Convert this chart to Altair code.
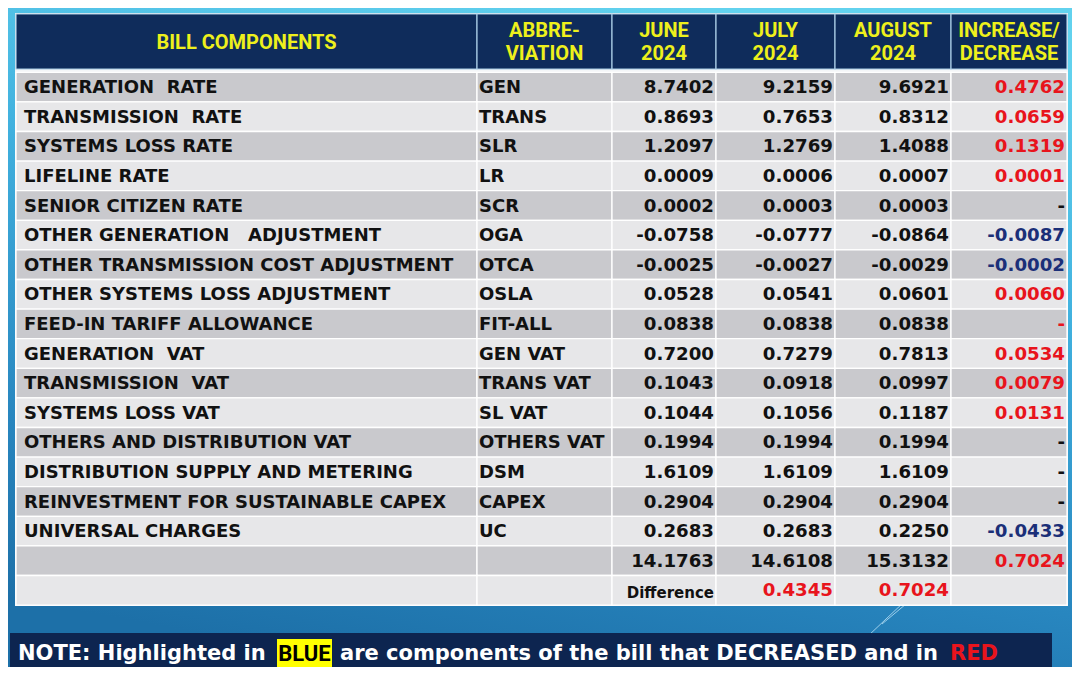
import altair as alt
import pandas as pd

# ---------------- data ----------------
headers = ["BILL COMPONENTS", "ABBRE-\nVIATION", "JUNE\n2024", "JULY\n2024", "AUGUST\n2024", "INCREASE/\nDECREASE"]
NB = "\u00a0"
components = [
    "GENERATION" + NB + " RATE", "TRANSMISSION" + NB + " RATE", "SYSTEMS LOSS RATE", "LIFELINE RATE",
    "SENIOR CITIZEN RATE", "OTHER GENERATION" + NB + NB + " ADJUSTMENT",
    "OTHER TRANSMISSION COST ADJUSTMENT", "OTHER SYSTEMS LOSS ADJUSTMENT",
    "FEED-IN TARIFF ALLOWANCE", "GENERATION" + NB + " VAT", "TRANSMISSION" + NB + " VAT",
    "SYSTEMS LOSS VAT", "OTHERS AND DISTRIBUTION VAT", "DISTRIBUTION SUPPLY AND METERING",
    "REINVESTMENT FOR SUSTAINABLE CAPEX", "UNIVERSAL CHARGES",
]
abbreviations = ["GEN", "TRANS", "SLR", "LR", "SCR", "OGA", "OTCA", "OSLA", "FIT-ALL",
                 "GEN VAT", "TRANS VAT", "SL VAT", "OTHERS VAT", "DSM", "CAPEX", "UC"]
june_2024 = [8.7402, 0.8693, 1.2097, 0.0009, 0.0002, -0.0758, -0.0025, 0.0528, 0.0838,
             0.7200, 0.1043, 0.1044, 0.1994, 1.6109, 0.2904, 0.2683]
july_2024 = [9.2159, 0.7653, 1.2769, 0.0006, 0.0003, -0.0777, -0.0027, 0.0541, 0.0838,
             0.7279, 0.0918, 0.1056, 0.1994, 1.6109, 0.2904, 0.2683]
august_2024 = [9.6921, 0.8312, 1.4088, 0.0007, 0.0003, -0.0864, -0.0029, 0.0601, 0.0838,
               0.7813, 0.0997, 0.1187, 0.1994, 1.6109, 0.2904, 0.2250]
change = ["0.4762", "0.0659", "0.1319", "0.0001", "-", "-0.0087", "-0.0002", "0.0060", "-",
          "0.0534", "0.0079", "0.0131", "-", "-", "-", "-0.0433"]
red_dash_rows = ["FIT-ALL"]
totals = [14.1763, 14.6108, 15.3132]
total_change = "0.7024"
difference_label = "Difference"
difference = [0.4345, 0.7024]
note_parts = ["NOTE: Highlighted in", "BLUE", "are components of the bill that DECREASED and in", "RED"]

# ---------------- layout (reference pixel coordinates) ----------------
COL = [16, 477, 612, 716, 835, 951, 1067]
HEAD_TOP, HEAD_BOT = 14, 69
ROW_TOP, ROW_H = 72.3, 29.6
N_ROWS = len(components) + 2
HEAD_LINE = 23

NAVY = "#0f2c5b"
YELLOW = "#eef01c"
RED = "#e8141c"
BLUE = "#1b2f78"
DARK = "#c9c9cd"
LIGHT = "#e7e7e9"
BODY_FONT = "DejaVu Sans"
HEAD_FONT = "Roboto"

xs = alt.Scale(domain=[8, 1072], nice=False, zero=False)
ys = alt.Scale(domain=[8, 667], nice=False, zero=False, reverse=True)


def X(f):
    return alt.X(f + ":Q", scale=xs, axis=None)


def Y(f):
    return alt.Y(f + ":Q", scale=ys, axis=None)


def fmt(v):
    return f"{v:.4f}"


# background
bg = pd.DataFrame({"x1": [8], "x2": [1072], "y1": [8], "y2": [667]})
bg_layer = alt.Chart(bg).mark_rect(
    color=alt.Gradient(
        gradient="linear",
        stops=[alt.GradientStop(color="#62d2ee", offset=0),
               alt.GradientStop(color="#40b0de", offset=0.35),
               alt.GradientStop(color="#2886bf", offset=0.75),
               alt.GradientStop(color="#1d70a8", offset=1)],
        x1=0.65, y1=0, x2=0.35, y2=1,
    )
).encode(x=X("x1"), x2="x2", y=Y("y1"), y2="y2")

# decorative thin lines (kept inside the visible area)
deco = pd.DataFrame({"x1": [868, 882], "y1": [636, 624], "x2": [904, 906], "y2": [602, 604]})
deco_layer = alt.Chart(deco).mark_rule(color="#cfefff", strokeWidth=1, opacity=0.7).encode(
    x=X("x1"), x2="x2", y=Y("y1"), y2="y2")

# table white base
base = pd.DataFrame({"x1": [COL[0] - 1], "x2": [COL[-1] + 1], "y1": [HEAD_TOP - 1],
                     "y2": [ROW_TOP + N_ROWS * ROW_H + 1]})
base_layer = alt.Chart(base).mark_rect(color="#f4f6f8").encode(x=X("x1"), x2="x2", y=Y("y1"), y2="y2")

# header cells
hdr = pd.DataFrame({
    "x1": COL[:-1], "x2": COL[1:], "y1": [HEAD_TOP] * 6, "y2": [HEAD_BOT] * 6,
})
hdr_cells = alt.Chart(hdr).mark_rect(color=NAVY, stroke="#a8cce4", strokeWidth=1.2).encode(
    x=X("x1"), x2="x2", y=Y("y1"), y2="y2")

hdr_lines = []
for j, h in enumerate(headers):
    parts = h.split("\n")
    xc = (COL[j] + COL[j + 1]) / 2
    yc = (HEAD_TOP + HEAD_BOT) / 2 + 1
    for k, p in enumerate(parts):
        hdr_lines.append({"x": xc, "y": yc + (k - (len(parts) - 1) / 2) * HEAD_LINE, "t": p})
hdr_text = alt.Chart(pd.DataFrame(hdr_lines)).mark_text(
    font=HEAD_FONT, fontWeight="bold", fontSize=20, color=YELLOW, align="center", baseline="middle"
).encode(x=X("x"), y=Y("y"), text="t:N")

# body cells
cells = []
for i in range(N_ROWS):
    for j in range(6):
        cells.append({"x1": COL[j], "x2": COL[j + 1], "y1": ROW_TOP + i * ROW_H,
                      "y2": ROW_TOP + (i + 1) * ROW_H, "fill": DARK if i % 2 == 0 else LIGHT})
cells = pd.DataFrame(cells)
cell_layer = alt.Chart(cells).mark_rect(stroke="#ffffff", strokeWidth=1.3).encode(
    x=X("x1"), x2="x2", y=Y("y1"), y2="y2", fill=alt.Fill("fill:N", scale=None))

# texts
left_rows, right_rows = [], []
for i, (name, ab) in enumerate(zip(components, abbreviations)):
    yc = ROW_TOP + (i + 0.5) * ROW_H + 1
    left_rows.append({"x": COL[0] + 8, "y": yc, "t": name, "c": "#111111"})
    left_rows.append({"x": COL[1] + 2, "y": yc, "t": ab, "c": "#111111"})
    for j, series in enumerate([june_2024, july_2024, august_2024]):
        right_rows.append({"x": COL[j + 3] - 2, "y": yc, "t": fmt(series[i]), "c": "#111111"})
    ch = change[i]
    if ch == "-":
        col = RED if ab in red_dash_rows else "#111111"
    elif ch.startswith("-"):
        col = BLUE
    else:
        col = RED
    right_rows.append({"x": COL[6] - 2, "y": yc, "t": ch, "c": col})

yt = ROW_TOP + (len(components) + 0.5) * ROW_H + 1
for j, v in enumerate(totals):
    right_rows.append({"x": COL[j + 3] - 2, "y": yt, "t": fmt(v), "c": "#111111"})
right_rows.append({"x": COL[6] - 2, "y": yt, "t": total_change, "c": RED})
yd = ROW_TOP + (len(components) + 1.5) * ROW_H + 1
for j, v in enumerate(difference):
    right_rows.append({"x": COL[j + 4] - 2, "y": yd, "t": fmt(v), "c": RED})

left_df = pd.DataFrame(left_rows)
right_df = pd.DataFrame(right_rows)
diff_df = pd.DataFrame({"x": [COL[3] - 2], "y": [yd + 2], "t": [difference_label]})

left_text = alt.Chart(left_df).mark_text(
    font=BODY_FONT, fontWeight="bold", fontSize=18, align="left", baseline="middle"
).encode(x=X("x"), y=Y("y"), text="t:N", color=alt.Color("c:N", scale=None))
right_text = alt.Chart(right_df).mark_text(
    font=BODY_FONT, fontWeight="bold", fontSize=18.2, align="right", baseline="middle"
).encode(x=X("x"), y=Y("y"), text="t:N", color=alt.Color("c:N", scale=None))
diff_text = alt.Chart(diff_df).mark_text(
    font=BODY_FONT, fontWeight="bold", fontSize=15, align="right", baseline="middle", color="#111111"
).encode(x=X("x"), y=Y("y"), text="t:N")

# note box
note_box = pd.DataFrame({"x1": [10], "x2": [1052], "y1": [633], "y2": [667]})
note_layer = alt.Chart(note_box).mark_rect(color="#0d2550").encode(x=X("x1"), x2="x2", y=Y("y1"), y2="y2")
hl = pd.DataFrame({"x1": [277], "x2": [332], "y1": [639], "y2": [667]})
hl_layer = alt.Chart(hl).mark_rect(color="#ffff00").encode(x=X("x1"), x2="x2", y=Y("y1"), y2="y2")

note_df = pd.DataFrame({
    "x": [18, 304.5, 340, 950],
    "y": [654, 654, 654, 654],
    "t": note_parts,
    "c": ["#ffffff", "#000000", "#ffffff", RED],
    "a": ["left", "center", "left", "left"],
})
note_left = alt.Chart(note_df[note_df.a == "left"]).mark_text(
    font=BODY_FONT, fontWeight="bold", fontSize=21, align="left", baseline="middle"
).encode(x=X("x"), y=Y("y"), text="t:N", color=alt.Color("c:N", scale=None))
note_blue = alt.Chart(note_df[note_df.a == "center"]).mark_text(
    font=HEAD_FONT, fontWeight="bold", fontSize=22, align="center", baseline="middle"
).encode(x=X("x"), y=Y("y"), text="t:N", color=alt.Color("c:N", scale=None))

chart = alt.layer(
    bg_layer, deco_layer, base_layer, hdr_cells, hdr_text, cell_layer, left_text, right_text, diff_text,
    note_layer, hl_layer, note_left, note_blue,
).properties(
    width=1064, height=659, padding=0,
    autosize=alt.AutoSizeParams(type="fit", contains="padding"),
).configure_view(stroke=None)

chart.save("out.html", embed_options={"renderer": "svg", "actions": False})
